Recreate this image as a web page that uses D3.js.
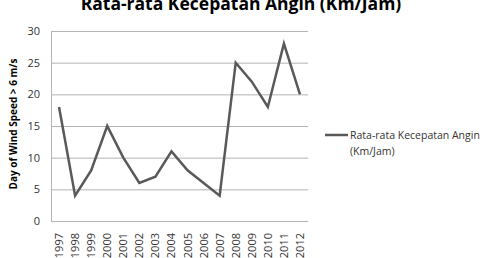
<!DOCTYPE html>
<html><head><meta charset="utf-8">
<script src="https://cdn.jsdelivr.net/npm/d3@7"></script>
<style>body{margin:0;background:#fff}svg{display:block}text{font-family:"Open Sans","Liberation Sans",sans-serif}</style>
</head><body>
<script>
const years = ["1997","1998","1999","2000","2001","2002","2003","2004","2005","2006","2007","2008","2009","2010","2011","2012"];
const values = [18,4,8,15,10,6,7,11,8,6,4,25,22,18,28,20];
const yTicks = [0,5,10,15,20,25,30];
const seriesName = ["Rata-rata Kecepatan Angin","(Km/Jam)"];
const title = "Rata-rata Kecepatan Angin (Km/Jam)";
const yLabel = "Day of Wind Speed > 6 m/s";

(function(){
const W=490,H=258;
const svg=d3.select("body").append("svg").attr("width",W).attr("height",H);
const pL=51,pR=308,pT=31,pB=221;
const x=d3.scaleBand().domain(years).range([pL,pR]);
const y=d3.scaleLinear().domain([0,30]).range([pB,pT]);

svg.append("g").selectAll("line").data(yTicks).join("line")
  .attr("x1",pL).attr("x2",pR).attr("y1",d=>y(d)+0.5).attr("y2",d=>y(d)+0.5)
  .attr("stroke","#b3b3b3").attr("stroke-width",1);
svg.append("line").attr("x1",pL+0.5).attr("x2",pL+0.5).attr("y1",pT).attr("y2",pB)
  .attr("stroke","#b3b3b3");

svg.append("g").selectAll("text").data(yTicks).join("text")
  .attr("x",40).attr("y",d=>y(d)+4).attr("text-anchor","end")
  .attr("font-size",11).attr("fill","#333").text(d=>d);

svg.append("g").selectAll("text").data(years).join("text")
  .attr("transform",d=>`translate(${x(d)+x.bandwidth()/2+4},233) rotate(-90)`)
  .attr("text-anchor","end").attr("font-size",11).attr("fill","#333").text(d=>d);

const line=d3.line().x((d,i)=>x(years[i])+x.bandwidth()/2).y(d=>y(d));
svg.append("path").datum(values).attr("d",line).attr("fill","none")
  .attr("stroke","#595959").attr("stroke-width",2.5).attr("stroke-linejoin","miter");

svg.append("text").attr("x",241).attr("y",10).attr("text-anchor","middle")
  .attr("font-size",17.5).attr("font-weight","bold").attr("fill","#000").text(title);

svg.append("text").attr("transform","translate(17,124) rotate(-90)").attr("text-anchor","middle")
  .attr("font-size",10).attr("font-weight","bold").attr("fill","#000").text(yLabel);

svg.append("line").attr("x1",325).attr("x2",348).attr("y1",135).attr("y2",135)
  .attr("stroke","#595959").attr("stroke-width",2.5);
svg.append("g").selectAll("text").data(seriesName).join("text")
  .attr("x",350).attr("y",(d,i)=>139+i*16).attr("font-size",10.5).attr("fill","#333").text(d=>d);
})();
</script>
</body></html>
